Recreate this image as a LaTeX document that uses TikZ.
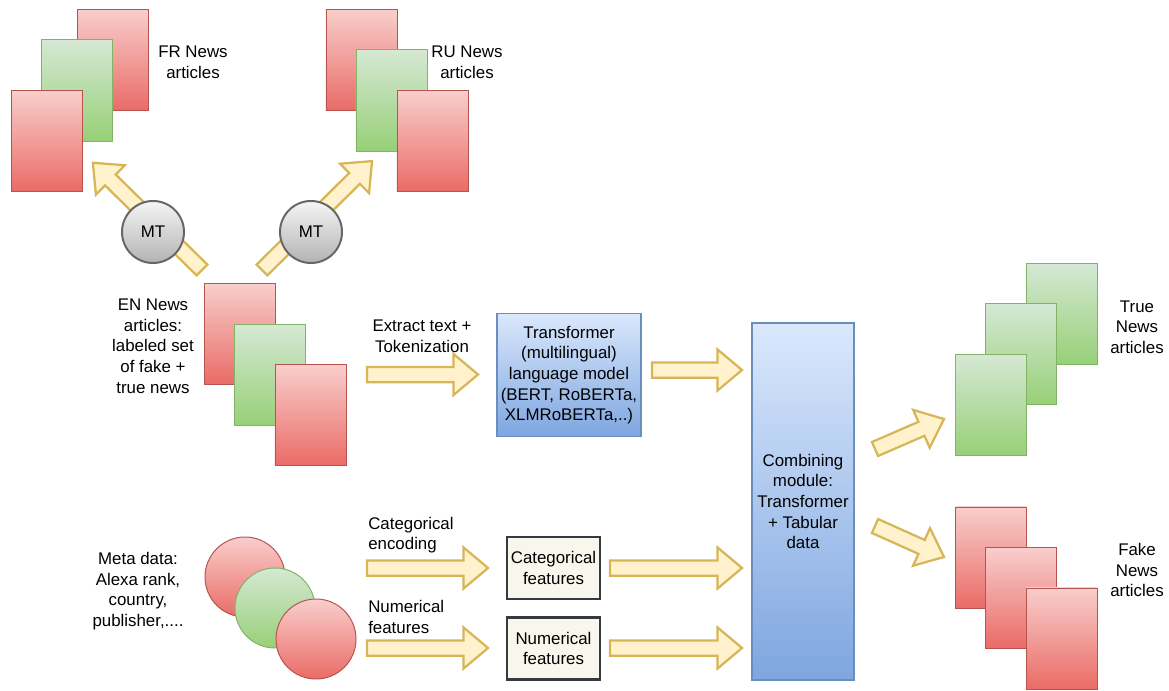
\documentclass[tikz,border=0pt]{standalone}
\usepackage{fontspec}
\setmainfont{Liberation Sans}
\usetikzlibrary{shapes.arrows}

\definecolor{redtop}{HTML}{F8CECC}
\definecolor{redbot}{HTML}{EA6B66}
\definecolor{redline}{HTML}{B85450}
\definecolor{greentop}{HTML}{D5E8D4}
\definecolor{greenbot}{HTML}{97D077}
\definecolor{greenline}{HTML}{82B366}
\definecolor{bluetop}{HTML}{DAE8FC}
\definecolor{bluebot}{HTML}{7EA6E0}
\definecolor{blueline}{HTML}{6C8EBF}
\definecolor{graytop}{HTML}{F5F5F5}
\definecolor{graybot}{HTML}{B3B3B3}
\definecolor{grayline}{HTML}{666666}
\definecolor{arrowfill}{HTML}{FFF2CC}
\definecolor{arrowline}{HTML}{D6B656}
\definecolor{featfill}{HTML}{F9F7ED}
\definecolor{featline}{HTML}{36393D}

\begin{document}
\begin{tikzpicture}[x=0.025cm,y=-0.025cm,font=\fontsize{12}{14.7}\selectfont]
            \tikzset{paper/.style={rectangle,minimum width=1.775cm,minimum height=2.525cm,line width=.7pt}}
            \tikzset{redp/.style={paper,draw=redline,top color=redtop,bottom color=redbot}}
            \tikzset{greenp/.style={paper,draw=greenline,top color=greentop,bottom color=greenbot}}
            \tikzset{metared/.style={circle,minimum size=2cm,line width=.7pt,draw=redline,top color=redtop,bottom color=redbot}}
            \tikzset{metagreen/.style={circle,minimum size=2cm,line width=.7pt,draw=greenline,top color=greentop,bottom color=greenbot}}
            \tikzset{mtnode/.style={circle,minimum size=1.55cm,inner sep=0pt,line width=1.4pt,draw=grayline,top color=graytop,bottom color=graybot}}
            \tikzset{bluebox/.style={rectangle,align=center,inner sep=1pt,line width=1.3pt,draw=blueline,top color=bluetop,bottom color=bluebot}}
            \tikzset{featbox/.style={rectangle,align=center,inner sep=1pt,minimum width=2.325cm,minimum height=1.55cm,line width=1.8pt,draw=featline,fill=featfill}}
            \tikzset{fatarrow/.style={single arrow,draw=arrowline,fill=arrowfill,line width=1.6pt,inner xsep=0pt,inner ysep=.1625cm,minimum height=#1,single arrow head extend=.325cm,single arrow tip angle=80,anchor=tail,outer sep=0pt}}
            \tikzset{txt/.style={align=center,inner sep=0pt}}

            \useasboundingbox (0,0) rectangle (1169,690);

            %fr_stack
            \node[redp] (fr1) at (113,60) {};
            \node[greenp] (fr2) at (77,90.5) {};
            \node[redp] (fr3) at (47,141) {};
            \node[txt] (frtxt) at (193,62) {FR News\\articles};

            %ru_stack
            \node[redp] (ru1) at (361.5,60) {};
            \node[greenp] (ru2) at (391.5,100.5) {};
            \node[redp] (ru3) at (432.5,141) {};
            \node[txt] (rutxt) at (467,62) {RU News\\articles};

            %en_stack
            \node[redp] (en1) at (240,334) {};
            \node[greenp] (en2) at (270,375) {};
            \node[redp] (en3) at (310.5,415) {};
            \node[txt] (entxt) at (153,346) {EN News\\articles:\\labeled set\\of fake +\\true news};

            %machine_translation
            \node[fatarrow=3.825cm,rotate=135.5] (afr) at (202,270) {};
            \node[fatarrow=3.87cm,rotate=44.7] (aru) at (262,270) {};
            \node[mtnode] (mtfr) at (153,232) {MT};
            \node[mtnode] (mtru) at (311,232) {MT};

            %text_branch
            \node[txt] (extxt) at (422,336) {Extract text +\\Tokenization};
            \node[fatarrow=2.775cm] (aex) at (367,374.5) {};
            \node[bluebox,minimum width=3.6cm,minimum height=3.075cm] (tlm) at (569,375) {Transformer\\(multilingual)\\language model\\(BERT, RoBERTa,\\XLMRoBERTa,..)};
            \node[fatarrow=2.25cm] (atlm) at (652,370) {};

            %combining
            \node[bluebox,minimum width=2.55cm,minimum height=8.925cm] (comb) at (803,501.5) {Combining\\module:\\Transformer\\+ Tabular\\data};
            \node[fatarrow=1.88cm,rotate=23.5] (atrue) at (875,449) {};
            \node[fatarrow=1.89cm,rotate=-24.2] (afake) at (875,526) {};

            %true_stack
            \node[greenp] (tr1) at (1061.5,314) {};
            \node[greenp] (tr2) at (1021,354) {};
            \node[greenp] (tr3) at (991,405) {};
            \node[txt] (trtxt) at (1137,327) {True\\News\\articles};

            %fake_stack
            \node[redp] (fk1) at (991,557.5) {};
            \node[redp] (fk2) at (1021,598) {};
            \node[redp] (fk3) at (1061.5,638.5) {};
            \node[txt] (fktxt) at (1137,570) {Fake\\News\\articles};

            %meta_branch
            \node[txt] (metatxt) at (138,591) {Meta data:\\Alexa rank,\\country,\\publisher,....};
            \node[metared] (mc1) at (245,577) {};
            \node[metagreen] (mc2) at (275,608) {};
            \node[metared] (mc3) at (316,639) {};

            \node[txt,anchor=west,align=left] (cattxt) at (368,535) {Categorical\\encoding};
            \node[fatarrow=3.025cm] (acat) at (367,568) {};
            \node[featbox] (cat) at (553.5,568) {Categorical\\features};
            \node[fatarrow=3.3cm] (acomb1) at (610,568) {};

            \node[txt,anchor=west,align=left] (numtxt) at (368,617) {Numerical\\features};
            \node[fatarrow=3.025cm] (anum) at (367,648) {};
            \node[featbox] (num) at (553.5,648.5) {Numerical\\features};
            \node[fatarrow=3.3cm] (acomb2) at (610,648) {};
\end{tikzpicture}
\end{document}
